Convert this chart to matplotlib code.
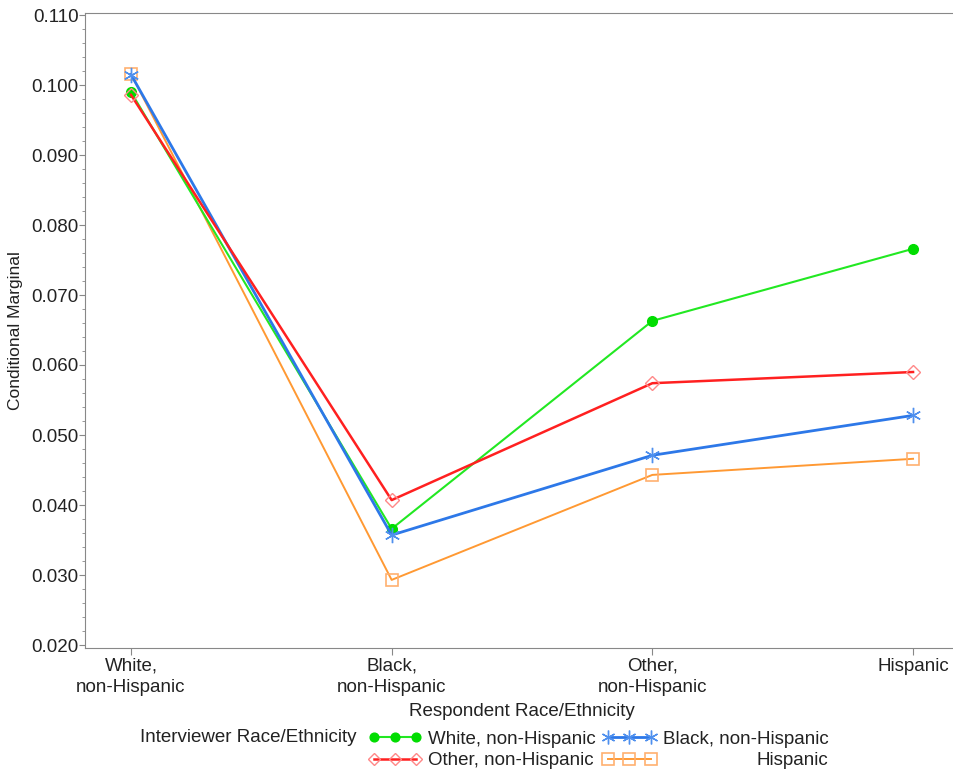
import matplotlib
matplotlib.use("Agg")
import matplotlib.pyplot as plt
from matplotlib.ticker import MultipleLocator

plt.rcParams['font.family'] = ['Liberation Sans', 'DejaVu Sans']

# respondent categories (x axis)
categories = ["White,\nnon-Hispanic", "Black,\nnon-Hispanic", "Other,\nnon-Hispanic", "Hispanic"]

# conditional marginals by interviewer race/ethnicity
white_int = [0.0990, 0.0366, 0.0663, 0.0766]
black_int = [0.1015, 0.0357, 0.0471, 0.0528]
other_int = [0.0986, 0.0407, 0.0574, 0.0590]
hisp_int = [0.1016, 0.0293, 0.0443, 0.0466]

series_labels = ["White, non-Hispanic", "Black, non-Hispanic",
                 "Other, non-Hispanic", "Hispanic"]

asterisk = (6, 2, 0)
FS = 13.5
TXT = "#222222"

fig = plt.figure(figsize=(9.54, 7.72), dpi=100)
ax = fig.add_axes([85 / 954, 1 - 648 / 772, (959 - 85) / 954, (648 - 13) / 772])

x = list(range(len(categories)))

# draw order: hispanic, white, black, other
l_hisp, = ax.plot(x, hisp_int, color="#FF9933", lw=1.4, marker="s", ms=9,
                  mfc="none", mec="#FFB070", mew=1.2)
l_white, = ax.plot(x, white_int, color="#22E822", lw=1.5, marker="o", ms=7,
                   mfc="#00DD00", mec="#00DD00")
l_black, = ax.plot(x, black_int, color="#2D78E8", lw=2.0, marker=asterisk, ms=11,
                   mec="#4F90EE", mew=1.0)
l_other, = ax.plot(x, other_int, color="#FF2020", lw=1.8, marker="D", ms=7,
                   mfc="none", mec="#FF8888", mew=1.0)

ax.set_xlim(-46 / 261, 3 + 46 / 261)
ax.set_ylim(0.020 - 3 / 7000, 0.110 + 2 / 7000)
ax.set_xticks(x)
ax.set_xticklabels(categories, fontsize=FS, color=TXT, linespacing=1.3)
ax.yaxis.set_major_locator(MultipleLocator(0.010))
ax.yaxis.set_minor_locator(MultipleLocator(0.002))
ax.yaxis.set_major_formatter(plt.FormatStrFormatter("%.3f"))
ax.tick_params(axis="y", which="major", labelsize=FS, labelcolor=TXT,
               length=4, color="#888888", pad=0.5)
ax.tick_params(axis="y", which="minor", length=2.5, color="#888888")
ax.tick_params(axis="x", length=5, color="#888888", pad=2)

for side in ["left", "bottom", "top", "right"]:
    ax.spines[side].set_color("#888888")

ax.set_ylabel("Conditional Marginal", fontsize=12.5, color=TXT, labelpad=6)
fig.text(522 / 954, 1 - 712 / 772, "Respondent Race/Ethnicity", fontsize=FS,
         ha="center", va="center", color=TXT)
fig.text(357 / 954, 1 - 738 / 772, "Interviewer Race/Ethnicity", fontsize=FS,
         ha="right", va="center", color=TXT)

handles = [l_white, l_other, l_black, l_hisp]
labels = [series_labels[0], series_labels[2], series_labels[1], series_labels[3]]
leg = fig.legend(handles, labels, ncol=2, loc="center left",
                 bbox_to_anchor=(368 / 954, 1 - 750 / 772), frameon=False,
                 fontsize=FS, numpoints=3, handlelength=2.85, handletextpad=0.35,
                 columnspacing=0.37, labelspacing=0.22, borderpad=0,
                 borderaxespad=0, markerscale=0.9)

# right-align the second column labels like the original
fig.canvas.draw()
texts = leg.get_texts()
renderer = fig.canvas.get_renderer()
ref = texts[2].get_window_extent(renderer)
hisp = texts[3].get_window_extent(renderer)
texts[3].set_visible(False)
fig.text(ref.x1 / fig.bbox.width, (hisp.y0 + hisp.y1) / 2 / fig.bbox.height,
         "Hispanic", fontsize=FS, ha="right", va="center", color=TXT)
for t in texts:
    t.set_color(TXT)

fig.savefig("out.png", dpi=100)
